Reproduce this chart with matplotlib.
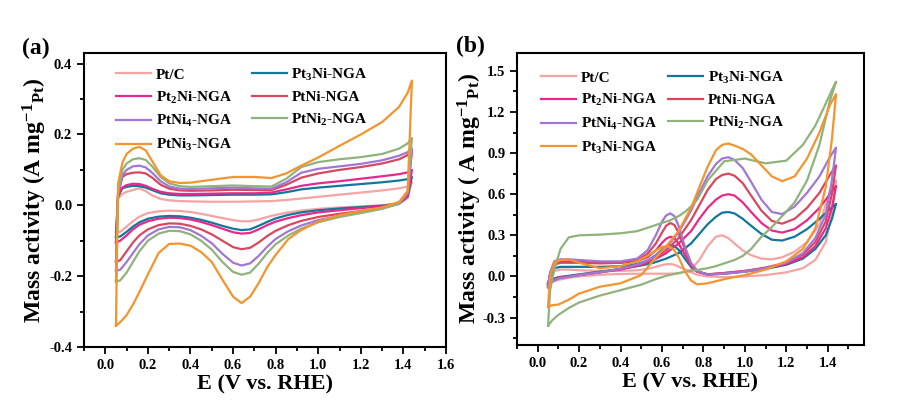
import matplotlib
matplotlib.use("Agg")
import matplotlib.pyplot as plt
from matplotlib.ticker import MultipleLocator
import numpy as np

plt.rcParams['font.family'] = ['Liberation Serif', 'DejaVu Serif']
plt.rcParams['font.weight'] = 'bold'
plt.rcParams['axes.unicode_minus'] = False
plt.rcParams['mathtext.fontset'] = 'custom'
plt.rcParams['mathtext.rm'] = 'Liberation Serif:bold'
plt.rcParams['mathtext.bf'] = 'Liberation Serif:bold'
plt.rcParams['mathtext.it'] = 'Liberation Serif:bold'
plt.rcParams['mathtext.default'] = 'bf'

# ---------------- (a) CV in N2-saturated electrolyte ----------------
# anodic branch grid and cathodic branch grid (V vs RHE)
Ea = [0.05, 0.06, 0.08, 0.1, 0.13, 0.16, 0.19, 0.22, 0.26, 0.3, 0.35, 0.4, 0.5,
      0.6, 0.7, 0.78, 0.85, 0.92, 1.0, 1.1, 1.2, 1.3, 1.38, 1.42, 1.44]
Ec = [0.05, 0.07, 0.1, 0.13, 0.16, 0.2, 0.25, 0.3, 0.35, 0.4, 0.45, 0.5, 0.55, 0.6,
      0.64, 0.68, 0.72, 0.76, 0.8, 0.86, 0.92, 1.0, 1.1, 1.2, 1.3, 1.38, 1.42, 1.44]

a_ptc_an = [-0.075, 0.02, 0.032, 0.038, 0.043, 0.048, 0.04, 0.028, 0.018, 0.014, 0.012, 0.011, 0.01,
            0.01, 0.011, 0.012, 0.015, 0.019, 0.024, 0.03, 0.036, 0.042, 0.048, 0.053, 0.065]
a_ptc_ca = [-0.075, -0.075, -0.06, -0.045, -0.032, -0.022, -0.017, -0.015, -0.016, -0.019, -0.024, -0.03, -0.036, -0.042,
            -0.045, -0.045, -0.04, -0.033, -0.027, -0.02, -0.015, -0.01, -0.006, -0.003, 0.0, 0.005, 0.02, 0.065]
a_pt3ni_an = [-0.09, 0.025, 0.048, 0.052, 0.055, 0.054, 0.05, 0.043, 0.034, 0.03, 0.028, 0.028, 0.029,
              0.03, 0.03, 0.031, 0.037, 0.045, 0.05, 0.055, 0.06, 0.065, 0.07, 0.074, 0.08]
a_pt3ni_ca = [-0.09, -0.088, -0.075, -0.06, -0.048, -0.038, -0.032, -0.03, -0.031, -0.035, -0.041, -0.049, -0.058, -0.066,
              -0.07, -0.068, -0.058, -0.047, -0.037, -0.027, -0.02, -0.014, -0.009, -0.005, -0.001, 0.005, 0.025, 0.08]
a_pt2ni_an = [-0.105, 0.03, 0.05, 0.057, 0.061, 0.06, 0.055, 0.047, 0.038, 0.034, 0.032, 0.032, 0.033,
              0.034, 0.034, 0.036, 0.045, 0.055, 0.062, 0.068, 0.075, 0.082, 0.088, 0.093, 0.1]
a_pt2ni_ca = [-0.105, -0.1, -0.085, -0.068, -0.055, -0.045, -0.038, -0.035, -0.036, -0.04, -0.047, -0.056, -0.066, -0.076,
              -0.08, -0.078, -0.068, -0.056, -0.046, -0.036, -0.028, -0.02, -0.014, -0.008, -0.003, 0.005, 0.025, 0.1]
a_ptni_an = [-0.16, 0.03, 0.08, 0.088, 0.092, 0.093, 0.09, 0.078, 0.058, 0.047, 0.042, 0.041, 0.042,
             0.044, 0.043, 0.043, 0.058, 0.078, 0.09, 0.1, 0.108, 0.118, 0.13, 0.142, 0.155]
a_ptni_ca = [-0.16, -0.155, -0.13, -0.105, -0.085, -0.068, -0.056, -0.051, -0.052, -0.058, -0.068, -0.082, -0.1, -0.118,
             -0.124, -0.12, -0.105, -0.087, -0.072, -0.056, -0.044, -0.033, -0.024, -0.016, -0.008, 0.004, 0.03, 0.155]
a_ptni4_an = [-0.185, 0.03, 0.085, 0.1, 0.11, 0.112, 0.107, 0.092, 0.068, 0.053, 0.047, 0.046, 0.048,
              0.05, 0.048, 0.047, 0.065, 0.092, 0.103, 0.11, 0.117, 0.127, 0.14, 0.15, 0.16]
a_ptni4_ca = [-0.185, -0.182, -0.16, -0.135, -0.11, -0.085, -0.068, -0.061, -0.062, -0.07, -0.086, -0.107, -0.137, -0.162,
              -0.17, -0.164, -0.143, -0.117, -0.095, -0.073, -0.057, -0.042, -0.03, -0.02, -0.009, 0.005, 0.035, 0.16]
a_ptni2_an = [-0.215, 0.04, 0.1, 0.118, 0.13, 0.133, 0.128, 0.11, 0.08, 0.062, 0.054, 0.052, 0.054,
              0.056, 0.054, 0.053, 0.075, 0.108, 0.122, 0.13, 0.136, 0.145, 0.16, 0.175, 0.19]
a_ptni2_ca = [-0.215, -0.212, -0.19, -0.16, -0.13, -0.1, -0.08, -0.072, -0.073, -0.082, -0.1, -0.125, -0.16, -0.188,
              -0.196, -0.19, -0.165, -0.135, -0.11, -0.085, -0.066, -0.048, -0.033, -0.022, -0.01, 0.005, 0.04, 0.19]
a_ptni3_an = [-0.34, 0.06, 0.12, 0.145, 0.16, 0.165, 0.155, 0.125, 0.085, 0.068, 0.063, 0.064, 0.072,
              0.08, 0.08, 0.077, 0.09, 0.112, 0.135, 0.168, 0.2, 0.235, 0.278, 0.318, 0.352]
a_ptni3_ca = [-0.34, -0.33, -0.31, -0.28, -0.245, -0.195, -0.135, -0.109, -0.108, -0.114, -0.132, -0.16, -0.21, -0.258,
              -0.276, -0.258, -0.22, -0.175, -0.14, -0.095, -0.07, -0.046, -0.028, -0.016, -0.006, 0.01, 0.04, 0.352]

# ---------------- (b) CV in methanol ----------------
Ef = [0.05, 0.07, 0.1, 0.15, 0.2, 0.3, 0.4, 0.5, 0.56, 0.62, 0.68, 0.74, 0.78, 0.82,
      0.86, 0.89, 0.92, 0.95, 0.99, 1.03, 1.08, 1.13, 1.18, 1.24, 1.3, 1.36, 1.41, 1.44]
Er = [0.05, 0.06, 0.08, 0.11, 0.15, 0.2, 0.3, 0.4, 0.48, 0.53, 0.57, 0.6, 0.62, 0.64, 0.66,
      0.68, 0.71, 0.74, 0.77, 0.82, 0.9, 1.0, 1.1, 1.2, 1.28, 1.34, 1.39, 1.42, 1.44]

b_ptc_f = [-0.06, -0.04, -0.025, -0.01, 0.0, 0.012, 0.018, 0.02, 0.02, 0.02, 0.022, 0.05, 0.12, 0.22,
           0.29, 0.3, 0.28, 0.24, 0.19, 0.155, 0.13, 0.125, 0.14, 0.18, 0.25, 0.38, 0.62, 0.7]
b_ptc_r = [-0.06, -0.01, 0.04, 0.05, 0.05, 0.045, 0.04, 0.04, 0.045, 0.055, 0.07, 0.083, 0.089, 0.09, 0.085,
           0.072, 0.05, 0.03, 0.012, 0.0, -0.005, 0.0, 0.01, 0.03, 0.06, 0.12, 0.25, 0.45, 0.7]
b_pt3ni_f = [-0.05, -0.02, -0.005, 0.005, 0.015, 0.035, 0.055, 0.08, 0.1, 0.13, 0.17, 0.24, 0.31, 0.38,
             0.435, 0.465, 0.47, 0.46, 0.42, 0.37, 0.31, 0.268, 0.262, 0.29, 0.345, 0.42, 0.49, 0.53]
b_pt3ni_r = [-0.05, 0.0, 0.06, 0.07, 0.07, 0.07, 0.07, 0.075, 0.09, 0.115, 0.155, 0.195, 0.218, 0.228, 0.222,
             0.195, 0.13, 0.07, 0.035, 0.015, 0.02, 0.035, 0.055, 0.085, 0.13, 0.2, 0.3, 0.42, 0.53]
b_pt2ni_f = [-0.06, -0.03, -0.01, 0.0, 0.01, 0.03, 0.05, 0.085, 0.12, 0.17, 0.24, 0.33, 0.42, 0.5,
             0.56, 0.59, 0.6, 0.59, 0.54, 0.47, 0.39, 0.335, 0.32, 0.345, 0.41, 0.5, 0.6, 0.66]
b_pt2ni_r = [-0.06, 0.02, 0.09, 0.105, 0.11, 0.105, 0.1, 0.1, 0.11, 0.14, 0.19, 0.245, 0.275, 0.29, 0.28,
             0.24, 0.16, 0.08, 0.035, 0.015, 0.025, 0.04, 0.06, 0.09, 0.14, 0.22, 0.35, 0.5, 0.66]
b_ptni_f = [-0.07, -0.035, -0.01, 0.0, 0.012, 0.03, 0.055, 0.09, 0.13, 0.19, 0.28, 0.41, 0.52, 0.63,
            0.71, 0.74, 0.75, 0.735, 0.68, 0.59, 0.48, 0.405, 0.385, 0.42, 0.5, 0.61, 0.74, 0.81]
b_ptni_r = [-0.07, 0.02, 0.085, 0.1, 0.1, 0.1, 0.095, 0.1, 0.12, 0.165, 0.24, 0.32, 0.37, 0.39, 0.375,
            0.32, 0.2, 0.09, 0.038, 0.015, 0.025, 0.04, 0.065, 0.1, 0.16, 0.25, 0.4, 0.6, 0.81]
b_ptni4_f = [-0.08, -0.04, -0.015, -0.003, 0.01, 0.03, 0.055, 0.095, 0.14, 0.21, 0.32, 0.48, 0.61, 0.73,
             0.82, 0.86, 0.87, 0.85, 0.79, 0.69, 0.56, 0.47, 0.455, 0.51, 0.61, 0.73, 0.87, 0.94]
b_ptni4_r = [-0.08, 0.03, 0.11, 0.125, 0.125, 0.12, 0.11, 0.11, 0.13, 0.19, 0.3, 0.4, 0.445, 0.46, 0.44,
             0.37, 0.22, 0.1, 0.042, 0.012, 0.02, 0.035, 0.06, 0.1, 0.17, 0.28, 0.45, 0.7, 0.94]
b_ptni2_f = [-0.36, -0.32, -0.28, -0.23, -0.19, -0.14, -0.1, -0.06, -0.025, 0.005, 0.025, 0.04, 0.05, 0.06,
             0.075, 0.09, 0.105, 0.12, 0.15, 0.2, 0.29, 0.36, 0.44, 0.54, 0.7, 0.96, 1.28, 1.42]
b_ptni2_r = [-0.36, -0.1, 0.05, 0.2, 0.285, 0.3, 0.305, 0.315, 0.33, 0.355, 0.375, 0.39, 0.4, 0.41, 0.425,
             0.44, 0.47, 0.51, 0.56, 0.7, 0.84, 0.86, 0.825, 0.845, 0.96, 1.1, 1.26, 1.36, 1.42]
b_pt3ni2_f = [-0.22, -0.21, -0.205, -0.17, -0.125, -0.075, -0.05, 0.01, 0.12, 0.22, 0.33, 0.5, 0.65, 0.8,
              0.92, 0.96, 0.97, 0.955, 0.93, 0.89, 0.81, 0.73, 0.695, 0.73, 0.86, 1.05, 1.25, 1.33]
b_pt3ni2_r = [-0.22, 0.0, 0.1, 0.12, 0.125, 0.1, 0.06, 0.075, 0.11, 0.15, 0.19, 0.215, 0.22, 0.215, 0.19,
              0.14, 0.04, -0.03, -0.058, -0.05, -0.02, 0.01, 0.05, 0.11, 0.2, 0.35, 0.65, 1.0, 1.33]

labels_a = ['Pt/C', 'Pt$_3$Ni-NGA', 'Pt$_2$Ni-NGA', 'PtNi-NGA', 'PtNi$_4$-NGA', 'PtNi$_2$-NGA', 'PtNi$_3$-NGA']
labels_b = ['Pt/C', 'Pt$_3$Ni-NGA', 'Pt$_2$Ni-NGA', 'PtNi-NGA', 'PtNi$_4$-NGA', 'PtNi$_2$-NGA', 'Pt$_3$Ni-NGA']
colors = ['#F6A3A3', '#12779A', '#E8288A', '#D9475F', '#A276D5', '#90B27C', '#F3942E']

curves_a = [(a_ptc_an, a_ptc_ca), (a_pt3ni_an, a_pt3ni_ca), (a_pt2ni_an, a_pt2ni_ca), (a_ptni_an, a_ptni_ca),
            (a_ptni4_an, a_ptni4_ca), (a_ptni2_an, a_ptni2_ca), (a_ptni3_an, a_ptni3_ca)]
curves_b = [(b_ptc_f, b_ptc_r), (b_pt3ni_f, b_pt3ni_r), (b_pt2ni_f, b_pt2ni_r), (b_ptni_f, b_ptni_r),
            (b_ptni4_f, b_ptni4_r), (b_ptni2_f, b_ptni2_r), (b_pt3ni2_f, b_pt3ni2_r)]


def drawLoops(ax, Eup, Edown, curves, labels):
    handles = []
    for (i, (up, down)) in enumerate(curves):
        x = np.concatenate([Eup, Edown[::-1]])
        y = np.concatenate([up, down[::-1]])
        h, = ax.plot(x, y, color=colors[i], lw=1.6, label=labels[i], solid_joinstyle='round')
        handles.append(h)
    # legend filled row by row: two columns
    order = [0, 2, 4, 6, 1, 3, 5]
    return [handles[k] for k in order], [labels[k] for k in order]


def styleAxes(ax):
    for s in ax.spines.values():
        s.set_linewidth(1.5)
    ax.tick_params(which='both', direction='out', width=1.3, labelsize=10.5, top=False, right=False)
    ax.tick_params(which='major', length=5)
    ax.tick_params(which='minor', length=3)
    ax.set_xlabel('E (V vs. RHE)', fontsize=16, fontweight='bold', labelpad=2)


fig = plt.figure(figsize=(9.22, 4.01), dpi=100)
axA = fig.add_axes([0.0911, 0.1347, 0.3926, 0.7331])
axB = fig.add_axes([0.5607, 0.1397, 0.3764, 0.7281])

h, l = drawLoops(axA, Ea, Ec, curves_a, labels_a)
axA.set_xlim(-0.1, 1.6)
axA.set_ylim(-0.4, 0.43)
axA.xaxis.set_major_locator(MultipleLocator(0.2))
axA.xaxis.set_minor_locator(MultipleLocator(0.1))
axA.yaxis.set_major_locator(MultipleLocator(0.2))
axA.yaxis.set_minor_locator(MultipleLocator(0.1))
axA.xaxis.set_major_formatter(lambda v, p: f"{v:.1f}")
axA.yaxis.set_major_formatter(lambda v, p: f"{v:.1f}")
styleAxes(axA)
axA.set_ylabel('Mass activity (A mg$^{-1}$$_{Pt}$)', fontsize=17, fontweight='bold', labelpad=0)
axA.legend(h, l, ncol=2, frameon=False, loc='upper left', bbox_to_anchor=(0.05, 1.0),
           fontsize=11, handlelength=2.3, labelspacing=0.5, columnspacing=1.3, handletextpad=0.3)

h, l = drawLoops(axB, Ef, Er, curves_b, labels_b)
axB.set_xlim(-0.1, 1.575)
axB.set_ylim(-0.5, 1.63)
axB.xaxis.set_major_locator(MultipleLocator(0.2))
axB.xaxis.set_minor_locator(MultipleLocator(0.1))
axB.yaxis.set_major_locator(MultipleLocator(0.3))
axB.yaxis.set_minor_locator(MultipleLocator(0.15))
axB.xaxis.set_major_formatter(lambda v, p: f"{v:.1f}")
axB.yaxis.set_major_formatter(lambda v, p: f"{v:.1f}")
styleAxes(axB)
axB.set_ylabel('Mass activity ( A mg$^{-1}$$_{Pt}$)', fontsize=17, fontweight='bold', labelpad=-1)
axB.legend(h, l, ncol=2, frameon=False, loc='upper left', bbox_to_anchor=(0.03, 0.99),
           fontsize=11, handlelength=2.3, labelspacing=0.5, columnspacing=0.7, handletextpad=0.3)

fig.text(0.024, 0.88, '(a)', fontsize=17, fontweight='bold', va='center')
fig.text(0.495, 0.885, '(b)', fontsize=17, fontweight='bold', va='center')

fig.savefig('out.png', dpi=100)
